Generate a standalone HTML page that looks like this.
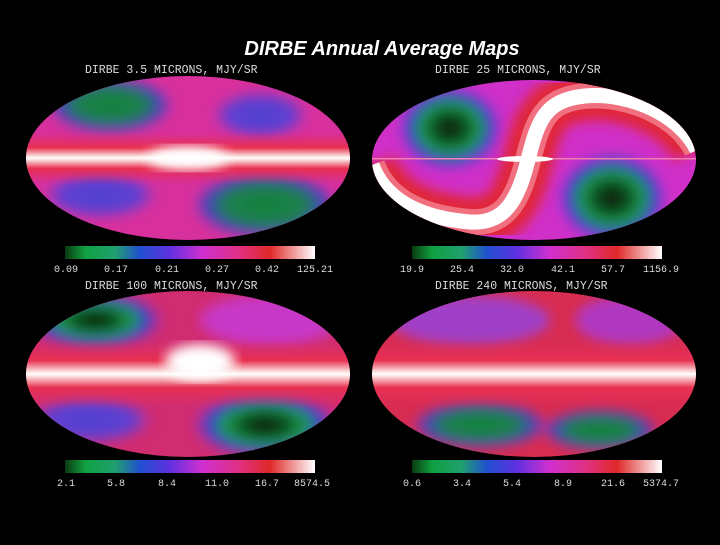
<!DOCTYPE html>
<html><head><style>
html,body{margin:0;padding:0;background:#000;}
body{width:720px;height:540px;overflow:hidden;}
svg text{font-family:"Liberation Mono",monospace;fill:#ddd;}
</style></head><body>
<svg width="720" height="540" viewBox="0 0 720 540" xmlns="http://www.w3.org/2000/svg">
<defs>
<linearGradient id="cb" x1="0" x2="1">
<stop offset="0" stop-color="#0a3a10"/><stop offset="0.08" stop-color="#10a040"/><stop offset="0.2" stop-color="#20a070"/>
<stop offset="0.3" stop-color="#2050d0"/><stop offset="0.42" stop-color="#6030e0"/><stop offset="0.55" stop-color="#d030d0"/>
<stop offset="0.7" stop-color="#e03080"/><stop offset="0.82" stop-color="#e02828"/><stop offset="0.92" stop-color="#f0a0a0"/><stop offset="1" stop-color="#ffffff"/>
</linearGradient>
<radialGradient id="gb">
<stop offset="0" stop-color="#051005"/><stop offset="0.3" stop-color="#0a5020"/><stop offset="0.55" stop-color="#20a050"/>
<stop offset="0.75" stop-color="#3040d0"/><stop offset="1" stop-color="#c030d0" stop-opacity="0"/>
</radialGradient>
<radialGradient id="gg">
<stop offset="0" stop-color="#10803a"/><stop offset="0.55" stop-color="#208050"/><stop offset="0.8" stop-color="#4040c0"/><stop offset="1" stop-color="#c030c0" stop-opacity="0"/>
</radialGradient>
<radialGradient id="bl">
<stop offset="0" stop-color="#5040d0"/><stop offset="0.7" stop-color="#6040d0"/><stop offset="1" stop-color="#c030c0" stop-opacity="0"/>
</radialGradient>
<linearGradient id="band" x1="0" y1="0" x2="0" y2="1">
<stop offset="0" stop-color="#e03060" stop-opacity="0"/><stop offset="0.3" stop-color="#e83050"/><stop offset="0.45" stop-color="#f8d0d0"/>
<stop offset="0.5" stop-color="#ffffff"/><stop offset="0.55" stop-color="#f8d0d0"/><stop offset="0.7" stop-color="#e83050"/><stop offset="1" stop-color="#e03060" stop-opacity="0"/>
</linearGradient>
<filter id="bf"><feGaussianBlur stdDeviation="6"/></filter>
<clipPath id="c1"><ellipse cx="188" cy="158" rx="162" ry="82"/></clipPath>
<clipPath id="c2"><ellipse cx="534" cy="160" rx="162" ry="80"/></clipPath>
<clipPath id="c3"><ellipse cx="188" cy="374" rx="162" ry="83"/></clipPath>
<clipPath id="c4"><ellipse cx="534" cy="374" rx="162" ry="83"/></clipPath>
</defs>

<text x="382" y="55" text-anchor="middle" style="font-family:'Liberation Sans',sans-serif;font-style:italic;font-weight:bold;font-size:20px;fill:#fff">DIRBE Annual Average Maps</text>

<!-- TL -->
<text x="85" y="73" font-size="11.5">DIRBE 3.5 MICRONS, MJY/SR</text>
<g clip-path="url(#c1)">
<rect x="20" y="70" width="340" height="180" fill="#d8309c"/>
<g filter="url(#bf)">
<ellipse cx="110" cy="105" rx="65" ry="30" fill="url(#gg)"/>
<ellipse cx="265" cy="205" rx="75" ry="35" fill="url(#gg)"/>
<ellipse cx="260" cy="115" rx="50" ry="25" fill="url(#bl)"/>
<ellipse cx="100" cy="195" rx="60" ry="25" fill="url(#bl)"/>
</g>
<rect x="20" y="132" width="340" height="52" fill="url(#band)"/>
<ellipse cx="188" cy="158" rx="40" ry="12" fill="#fff" filter="url(#bf)"/>
</g>
<rect x="65" y="246" width="250" height="13" fill="url(#cb)"/>
<g font-size="10" text-anchor="middle"><text x="66" y="272">0.09</text><text x="116" y="272">0.17</text><text x="167" y="272">0.21</text><text x="217" y="272">0.27</text><text x="267" y="272">0.42</text><text x="315" y="272">125.21</text></g>

<!-- TR -->
<text x="435" y="73" font-size="11.5">DIRBE 25 MICRONS, MJY/SR</text>
<g clip-path="url(#c2)">
<rect x="360" y="70" width="350" height="180" fill="#d030c8"/>
<g filter="url(#bf)">
<ellipse cx="450" cy="128" rx="55" ry="45" fill="url(#gb)"/>
<ellipse cx="612" cy="198" rx="58" ry="48" fill="url(#gb)"/>
</g>
<path d="M372,165 C385,200 420,218 470,222 C505,224 518,200 528,160 C538,120 545,100 585,96 C630,92 680,115 697,150" fill="none" stroke="#e02838" stroke-width="50" filter="url(#bf)"/>
<path d="M372,165 C385,200 420,218 470,222 C505,224 518,200 528,160 C538,120 545,100 585,96 C630,92 680,115 697,150" fill="none" stroke="#f07080" stroke-width="26"/>
<path d="M372,165 C385,200 420,218 470,222 C505,224 518,200 528,160 C538,120 545,100 585,96 C630,92 680,115 697,150" fill="none" stroke="#fff" stroke-width="15"/>
<rect x="372" y="158" width="325" height="1.5" fill="#f080b0"/>
<ellipse cx="525" cy="159" rx="28" ry="3" fill="#fff"/>
</g>
<rect x="412" y="246" width="250" height="13" fill="url(#cb)"/>
<g font-size="10" text-anchor="middle"><text x="412" y="272">19.9</text><text x="462" y="272">25.4</text><text x="512" y="272">32.0</text><text x="563" y="272">42.1</text><text x="613" y="272">57.7</text><text x="661" y="272">1156.9</text></g>

<!-- BL -->
<text x="85" y="289" font-size="11.5">DIRBE 100 MICRONS, MJY/SR</text>
<g clip-path="url(#c3)">
<rect x="20" y="285" width="340" height="180" fill="#d02c70"/>
<g filter="url(#bf)">
<ellipse cx="95" cy="320" rx="70" ry="30" fill="url(#gb)"/>
<ellipse cx="265" cy="425" rx="75" ry="35" fill="url(#gb)"/>
<ellipse cx="270" cy="320" rx="70" ry="25" fill="#c838c8"/>
<ellipse cx="90" cy="420" rx="65" ry="25" fill="url(#bl)"/>
</g>
<rect x="20" y="340" width="340" height="68" fill="url(#band)"/>
<ellipse cx="200" cy="362" rx="35" ry="18" fill="#fff" filter="url(#bf)"/>
</g>
<rect x="65" y="460" width="250" height="13" fill="url(#cb)"/>
<g font-size="10" text-anchor="middle"><text x="66" y="486">2.1</text><text x="116" y="486">5.8</text><text x="167" y="486">8.4</text><text x="217" y="486">11.0</text><text x="267" y="486">16.7</text><text x="312" y="486">8574.5</text></g>

<!-- BR -->
<text x="435" y="289" font-size="11.5">DIRBE 240 MICRONS, MJY/SR</text>
<g clip-path="url(#c4)">
<rect x="360" y="285" width="350" height="180" fill="#d82c50"/>
<g filter="url(#bf)">
<ellipse cx="470" cy="320" rx="80" ry="25" fill="#a040c8"/>
<ellipse cx="630" cy="320" rx="55" ry="25" fill="#b038c0"/>
<ellipse cx="480" cy="425" rx="70" ry="25" fill="url(#gg)"/>
<ellipse cx="600" cy="430" rx="60" ry="22" fill="url(#gg)"/>
</g>
<rect x="360" y="340" width="350" height="68" fill="url(#band)"/>
</g>
<rect x="412" y="460" width="250" height="13" fill="url(#cb)"/>
<g font-size="10" text-anchor="middle"><text x="412" y="486">0.6</text><text x="462" y="486">3.4</text><text x="512" y="486">5.4</text><text x="563" y="486">8.9</text><text x="613" y="486">21.6</text><text x="661" y="486">5374.7</text></g>
</svg>
</body></html>
